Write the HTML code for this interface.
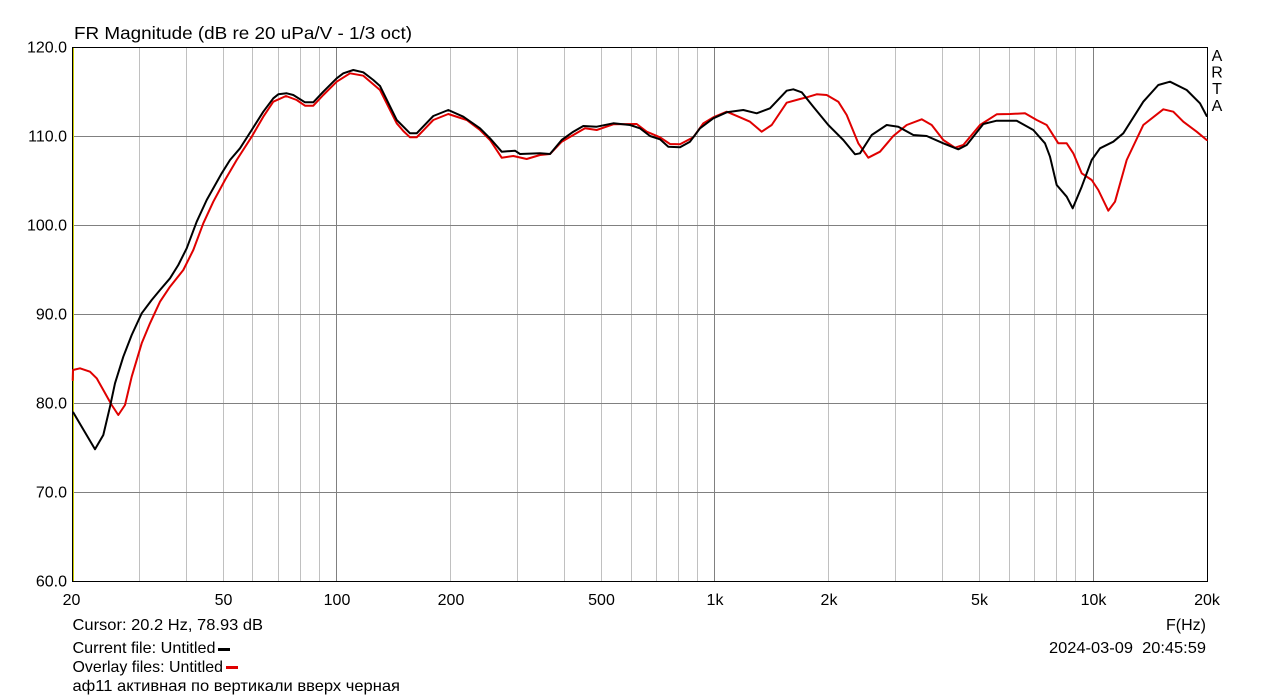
<!DOCTYPE html>
<html><head><meta charset="utf-8"><style>
html,body{margin:0;padding:0;background:#fff;}
svg{display:block;}
text{font-family:"Liberation Sans",Arial,sans-serif;fill:#000;}
</style></head><body>
<svg width="1279" height="699" viewBox="0 0 1279 699" xmlns="http://www.w3.org/2000/svg">
<rect width="1279" height="699" fill="#fff"/>
<g stroke="#c0c0c0" stroke-width="1">
<line x1="139.5" y1="47" x2="139.5" y2="581"/>
<line x1="186.5" y1="47" x2="186.5" y2="581"/>
<line x1="223.5" y1="47" x2="223.5" y2="581"/>
<line x1="252.5" y1="47" x2="252.5" y2="581"/>
<line x1="278.5" y1="47" x2="278.5" y2="581"/>
<line x1="300.5" y1="47" x2="300.5" y2="581"/>
<line x1="319.5" y1="47" x2="319.5" y2="581"/>
<line x1="450.5" y1="47" x2="450.5" y2="581"/>
<line x1="517.5" y1="47" x2="517.5" y2="581"/>
<line x1="564.5" y1="47" x2="564.5" y2="581"/>
<line x1="601.5" y1="47" x2="601.5" y2="581"/>
<line x1="631.5" y1="47" x2="631.5" y2="581"/>
<line x1="656.5" y1="47" x2="656.5" y2="581"/>
<line x1="678.5" y1="47" x2="678.5" y2="581"/>
<line x1="697.5" y1="47" x2="697.5" y2="581"/>
<line x1="828.5" y1="47" x2="828.5" y2="581"/>
<line x1="895.5" y1="47" x2="895.5" y2="581"/>
<line x1="942.5" y1="47" x2="942.5" y2="581"/>
<line x1="979.5" y1="47" x2="979.5" y2="581"/>
<line x1="1009.5" y1="47" x2="1009.5" y2="581"/>
<line x1="1034.5" y1="47" x2="1034.5" y2="581"/>
<line x1="1056.5" y1="47" x2="1056.5" y2="581"/>
<line x1="1075.5" y1="47" x2="1075.5" y2="581"/>
</g>
<g stroke="#808080" stroke-width="1">
<line x1="336.5" y1="47" x2="336.5" y2="581"/>
<line x1="714.5" y1="47" x2="714.5" y2="581"/>
<line x1="1093.5" y1="47" x2="1093.5" y2="581"/>
<line x1="72" y1="136.5" x2="1207" y2="136.5"/>
<line x1="72" y1="225.5" x2="1207" y2="225.5"/>
<line x1="72" y1="314.5" x2="1207" y2="314.5"/>
<line x1="72" y1="403.5" x2="1207" y2="403.5"/>
<line x1="72" y1="492.5" x2="1207" y2="492.5"/>
</g>
<rect x="72.5" y="47.5" width="1135" height="534" fill="none" stroke="#000" stroke-width="1"/>
<line x1="73.5" y1="48" x2="73.5" y2="581" stroke="#c8c800" stroke-width="1"/>

<polyline fill="none" stroke="#e00000" stroke-width="2" stroke-linejoin="round" stroke-linecap="round" points="
72.7,380 73,370 80,368.3 90,371.7 96.7,378.3 103.3,390 111.7,405 118.3,415 125,405 131.7,376.7 141.7,343.3 150,323.3 160,301.7 170,286.7 183.3,270 193.3,250 203.3,223.3 213.3,201.7 225,180 236.7,160 251.7,136.7 263.3,116.7 273.3,101.7 286,96 296.7,100 305,105.7 313.3,105.7 323.3,95 336.7,81.7 350,73.3 363.3,75.7 380,90 396.7,123.3 403.3,131 410,137.3 416.7,137.3 433.3,120 448.3,114 466.7,120 480,130 490,140 501.7,157.7 513.3,156 526.7,159 540,155 550,154 561.7,141.7 573.3,135 585,128.3 596.7,130 613.3,124.3 636.7,124 646.7,131.7 660,137.3 670,144 680,144.3 693.3,137.3 703.3,123.3 713.3,117.3 726.7,111.7 740,117.3 750,121.7 761.7,131.7 771.7,125 786.7,102.7 800,99 806.7,97.3 816.7,94.3 826.7,95 838.3,101.7 846.7,115 858.3,143.3 868.3,157.7 880,151.7 893.3,136 906.7,125 921.7,119.3 931.7,125 943.3,140 955,147.7 963.3,145 980,125 996.7,114.3 1010,114 1025,113.3 1036.7,120 1046.7,125 1058.3,143.3 1066.7,143.3 1073.3,153.3 1081.7,173.3 1091.7,180 1098.3,190 1108.3,210.7 1115,201.7 1126.7,160 1143.3,125 1163.3,109.3 1173.3,111.7 1183.3,121.7 1196.7,131.7 1206.7,140"/>

<polyline fill="none" stroke="#000" stroke-width="2" stroke-linejoin="round" stroke-linecap="round" points="
73.3,412.5 81.7,426.7 95,449.3 103.3,435 110,406.7 115,383.3 123.3,356.7 131.7,335 141.7,313.3 151.7,300 160,290 170,278.3 178.3,265 186.7,248.3 196.7,221.7 206.7,200 221.7,173.3 230,160 240,148.3 251.7,130 263.3,111.7 273.3,98.3 278.3,94.3 286.7,93.3 293.3,95 305,102.3 313.3,102.3 323.3,91.7 336.7,78.3 343.3,73.3 353.3,70 363.3,72.3 373.3,80 380,86 396.7,120 410,133.3 416.7,133.3 433.3,116 448.3,110 463.3,116.7 480,128.3 490,138.3 501.7,151.7 515,150.7 520,154 540,153.3 550,154 561.7,140 573.3,131.7 583.3,126 596.7,126.7 613.3,123.3 630,125 640,128.3 650,136 660,139.3 668.3,146.7 680,147.3 690,141.7 700,128.3 713.3,118.3 726.7,112.3 743.3,110 756.7,113.3 770,108.3 786.7,90.7 793.3,89.3 801.7,92.3 813.3,106.7 828.3,125 843.3,140 855,154.3 860,153.3 871.7,135 886.7,125 898.3,126.7 913.3,135 926.7,136 943.3,143.3 958.3,149.3 966.7,145 983.3,124 996.7,120.7 1016.7,120.7 1033.3,130 1045,143.3 1050,156.7 1056.7,185 1066.7,196.7 1072.7,208.3 1081.7,186.7 1091.7,160 1100,148.3 1113.3,141.7 1123.3,133.3 1143.3,101.7 1158.3,85 1170,81.7 1186.7,90 1200,103.3 1206.7,116"/>

<text x="74" y="39" font-size="17.5" textLength="338" lengthAdjust="spacingAndGlyphs">FR Magnitude (dB re 20 uPa/V - 1/3 oct)</text>

<g font-size="16" text-anchor="end">
<text x="67" y="52.5">120.0</text>
<text x="67" y="141.5">110.0</text>
<text x="67" y="230.5">100.0</text>
<text x="67" y="319.5">90.0</text>
<text x="67" y="408.5">80.0</text>
<text x="67" y="497.5">70.0</text>
<text x="67" y="586.5">60.0</text>
</g>

<g font-size="16" text-anchor="middle">
<text x="71.5" y="605">20</text>
<text x="223.5" y="605">50</text>
<text x="337" y="605">100</text>
<text x="451" y="605">200</text>
<text x="601.5" y="605">500</text>
<text x="715" y="605">1k</text>
<text x="829" y="605">2k</text>
<text x="979.5" y="605">5k</text>
<text x="1093.5" y="605">10k</text>
<text x="1207" y="605">20k</text>
</g>

<g font-size="16" text-anchor="middle">
<text x="1217" y="61">A</text>
<text x="1217" y="77.5">R</text>
<text x="1217" y="94">T</text>
<text x="1217" y="111">A</text>
</g>

<text x="1206" y="630" font-size="16" text-anchor="end">F(Hz)</text>
<text x="1049" y="653" font-size="16" textLength="157" lengthAdjust="spacingAndGlyphs" xml:space="preserve">2024-03-09  20:45:59</text>

<g font-size="16">
<text x="72.5" y="630" textLength="190.5" lengthAdjust="spacingAndGlyphs">Cursor: 20.2 Hz, 78.93 dB</text>
<text x="72.5" y="653" textLength="143" lengthAdjust="spacingAndGlyphs">Current file: Untitled</text>
<text x="72.5" y="672" textLength="150.5" lengthAdjust="spacingAndGlyphs">Overlay files: Untitled</text>
<text x="72.5" y="691" textLength="327.5" lengthAdjust="spacingAndGlyphs" style='font-family:"Liberation Sans","DejaVu Sans",sans-serif'>аф11 активная по вертикали вверх черная</text>
</g>
<rect x="218" y="648" width="12" height="3" fill="#000"/>
<rect x="226" y="666" width="12" height="3" fill="#e00000"/>
</svg>
</body></html>
